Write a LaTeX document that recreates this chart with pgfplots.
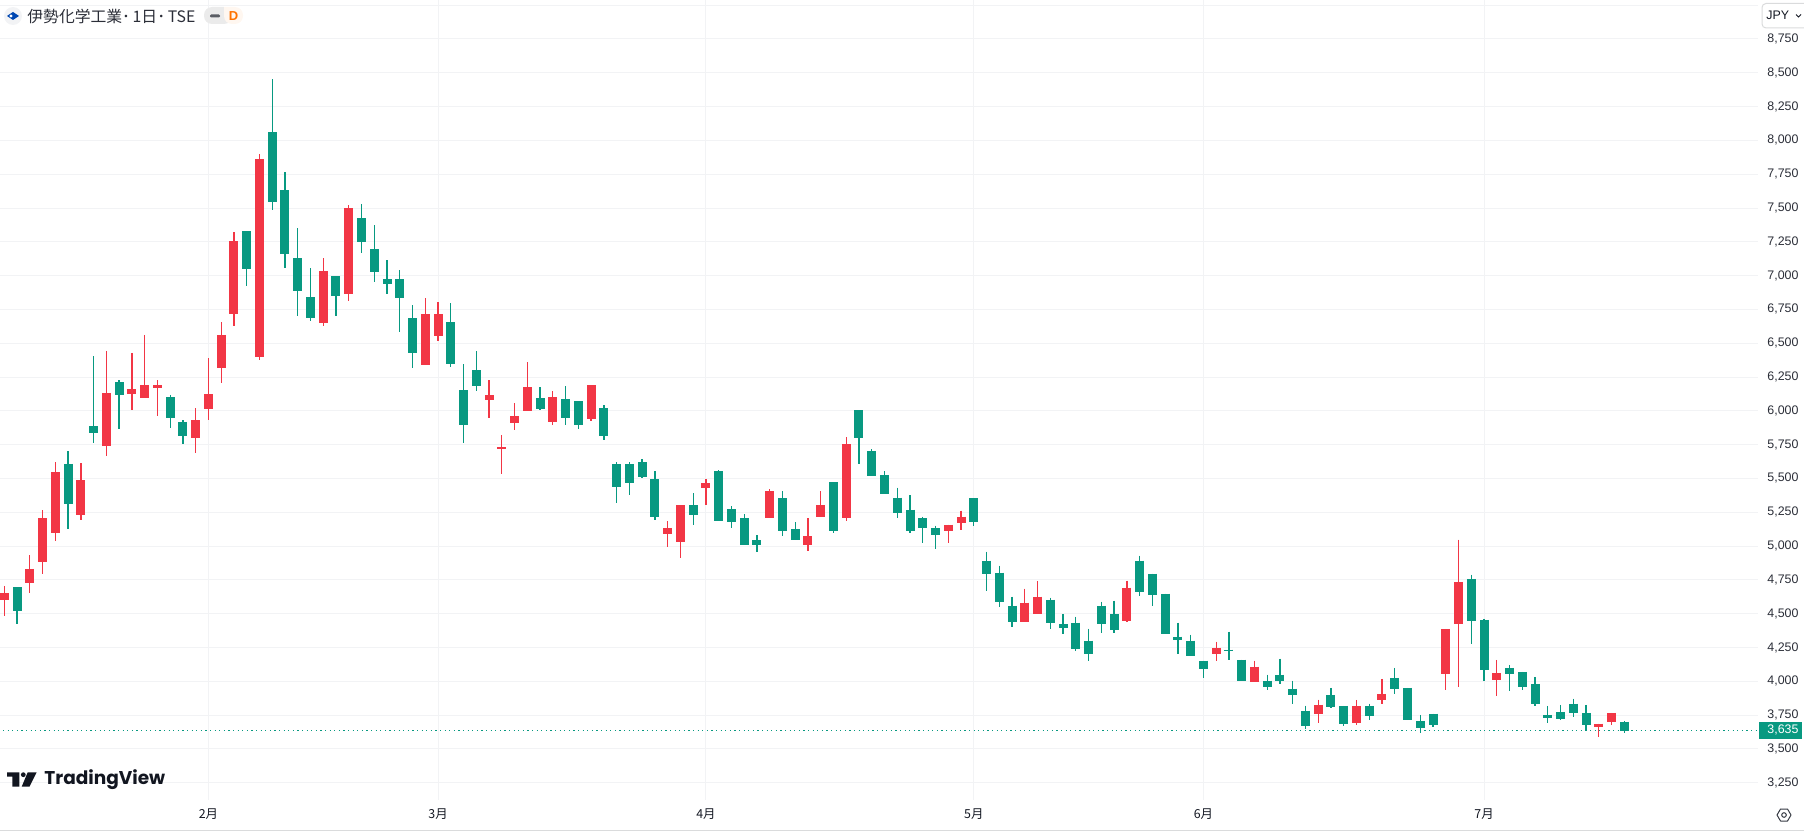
\documentclass[border=0pt]{standalone}
\usepackage{pgfplots}
\usepackage{pgfplotstable}
\pgfplotsset{compat=1.18}
\usepackage{fontspec}
\setmainfont{Liberation Sans}
\newfontfamily\cjk{Noto Sans CJK JP}
\newfontfamily\tvfont{Poppins}
\definecolor{upc}{HTML}{F23645}
\definecolor{dnc}{HTML}{089981}
\definecolor{gridc}{HTML}{F2F3F5}
\definecolor{txt}{HTML}{131722}
\pgfplotstableread{
i hi top bot lo
0 4705 4650 4599 4482
2 4933 4831 4725 4650
3 5266 5207 4882 4791
4 5619 5545 5098 5035
6 5612 5486 5227 5192
8 6443 6129 5737 5666
10 6428 6161 6122 6004
11 6561 6188 6094 6094
12 6227 6188 6168 5961
15 6020 5929 5800 5686
16 6388 6122 6012 5929
17 6655 6561 6314 6204
18 7322 7255 6714 6628
20 7899 7860 6396 6376
25 7130 7031 6647 6628
27 7522 7498 6863 6812
33 6831 6714 6337 6337
34 6804 6714 6553 6514
38 6226 6115 6078 5945
39 5819 5730 5715 5531
40 6056 5960 5908 5856
41 6359 6174 5997 5997
43 6144 6100 5915 5893
46 6189 6189 5937 5922
52 5183 5131 5087 4991
53 5301 5301 5028 4909
55 5494 5464 5427 5301
60 5420 5405 5205 5205
63 5205 5072 5005 4961
64 5405 5301 5212 5212
66 5804 5752 5205 5183
74 5159 5159 5115 5019
75 5263 5218 5167 5122
80 4686 4582 4442 4442
81 4738 4627 4501 4501
88 4745 4693 4449 4442
95 4294 4249 4205 4153
98 4153 4109 3998 3998
103 3865 3828 3761 3695
106 3863 3819 3693 3678
108 4018 3907 3863 3834
113 4388 4388 4055 3937
114 5047 4736 4425 3959
117 4159 4063 4011 3893
125 3686 3686 3663 3589
126 3767 3767 3700 3678
}\redT
\pgfplotstableread{
i hi top bot lo
1 4697 4697 4521 4423
5 5702 5608 5310 5125
7 6404 5886 5835 5761
9 6227 6212 6118 5867
13 6118 6102 5945 5870
14 5929 5918 5812 5753
19 7330 7330 7047 6922
21 8452 8059 7542 7483
22 7765 7632 7157 7055
23 7349 7130 6890 6698
24 7055 6839 6686 6663
26 6996 6996 6847 6698
28 7530 7424 7247 7165
29 7373 7196 7024 6953
30 7114 6973 6937 6863
31 7039 6973 6831 6580
32 6780 6686 6427 6314
35 6795 6655 6344 6322
36 6344 6152 5893 5760
37 6440 6300 6181 6144
42 6174 6093 6011 6004
44 6181 6085 5945 5893
45 6070 6070 5893 5863
47 6041 6019 5812 5782
48 5619 5605 5434 5316
49 5619 5605 5464 5375
50 5642 5619 5508 5501
51 5553 5494 5212 5190
54 5390 5301 5227 5153
56 5560 5553 5183 5183
57 5294 5272 5175 5131
58 5235 5205 5005 5005
59 5079 5042 5005 4954
61 5405 5353 5109 5072
62 5175 5124 5042 5042
65 5471 5471 5109 5094
67 6004 6004 5797 5605
68 5715 5701 5516 5516
69 5553 5523 5383 5383
70 5433 5359 5241 5211
71 5374 5270 5115 5093
72 5218 5204 5137 5019
73 5152 5130 5085 4982
76 5352 5352 5181 5152
77 4959 4893 4797 4671
78 4856 4804 4590 4553
79 4627 4560 4442 4405
82 4619 4604 4434 4390
83 4494 4420 4397 4353
84 4479 4434 4242 4227
85 4390 4301 4205 4153
86 4590 4560 4420 4360
87 4597 4494 4382 4360
89 4930 4893 4663 4634
90 4797 4797 4641 4560
91 4649 4649 4353 4353
92 4434 4331 4309 4205
93 4345 4301 4190 4190
94 4153 4153 4094 4027
96 4368 4235 4227 4161
97 4161 4161 4005 4005
99 4050 4005 3961 3939
100 4168 4050 4005 3983
101 4005 3946 3902 3835
102 3820 3783 3672 3650
104 3952 3900 3811 3804
105 3819 3819 3686 3671
107 3834 3819 3745 3715
109 4100 4026 3944 3907
110 3952 3952 3715 3715
111 3752 3708 3656 3619
112 3760 3760 3678 3663
115 4788 4758 4447 4277
116 4462 4455 4085 4004
118 4122 4100 4055 3930
119 4070 4070 3959 3937
120 4033 3981 3834 3819
121 3819 3752 3730 3693
122 3826 3774 3723 3715
123 3871 3834 3767 3737
124 3826 3767 3678 3641
127 3708 3700 3635 3619
}\greenT
\newcommand{\candles}[2]{%
  \addplot[draw=none, mark=none, forget plot,
    error bars/.cd, y dir=minus, y explicit, error mark=none,
    error bar style={draw=#2, solid, line width=0.65pt}]
    table[x=i, y=hi, y error minus expr=\thisrow{hi}-\thisrow{lo}] {#1};
  \addplot[draw=none, mark=none, forget plot,
    error bars/.cd, y dir=minus, y explicit, error mark=none,
    error bar style={draw=#2, solid, line width=4.5pt}]
    table[x=i, y=top, y error minus expr=\thisrow{top}-\thisrow{bot}] {#1};
}
\begin{document}
\begin{tikzpicture}
\path[use as bounding box] (0,-16pt) rectangle (902pt,400pt);
\begin{axis}[
  at={(0,0)}, anchor=south west,
  scale only axis, width=879pt, height=400pt,
  xmin=-0.3395, xmax=137.48, ymin=3122, ymax=9038.4,
  axis line style={draw=none},
  major tick length=0pt,
  ytick pos=right, yticklabel pos=right,
  ytick={3250,3500,3750,4000,4250,4500,4750,5000,5250,5500,5750,6000,6250,6500,6750,7000,7250,7500,7750,8000,8250,8500,8750},
  extra y ticks={9000}, extra y tick labels={},
  extra y tick style={grid=major},
  xtick={16,34,55,76,94,116},
  xticklabels={2月,3月,4月,5月,6月,7月},
  grid=major,
  major grid style={draw=gridc, line width=0.5pt},
  y tick label style={anchor=west, inner sep=0pt, xshift=4.5pt, text=txt!90, font=\fontsize{6.2}{7}\selectfont,
    /pgf/number format/.cd, 1000 sep={,}, assume math mode=true},
  x tick label style={anchor=center, inner sep=0pt, yshift=-7pt, text=txt, font=\cjk\fontsize{6.2}{7}\selectfont},
]
\addplot[dnc, line width=0.6pt, dash pattern=on 0.6pt off 1.7pt, forget plot] coordinates {(-0.1,3635) (137.48,3635)};
\candles{\redT}{upc}
\candles{\greenT}{dnc}
\end{axis}
\begin{scope}[x=0.5pt,y=-0.5pt,yshift=400pt]
  % bottom line
  \draw[draw=gridc!90!black, line width=0.5pt] (0,830) -- (1804,830);
  % header
  \fill[fill=gridc] (13,16) circle (9);
  \fill[fill=blue!60!cyan!70!black] (7,16) -- (13,12) -- (19,16) -- (13,20) -- cycle;
  \fill[white] (11,16) circle (1.6);
  \node[anchor=west, inner sep=0pt, text=txt!90] at (27,16.5) {\cjk\fontsize{7.9}{9}\selectfont 伊勢化学工業･\,1日･\,TSE};
  \fill[fill=black!8, rounded corners=4pt] (204,7) rectangle (232,24);
  \fill[fill=orange!6] (224,7) [rounded corners=4pt] -- (243,7) -- (243,24) -- (224,24) [sharp corners] -- cycle;
  \fill[fill=black!8] (216,7) rectangle (224,24);
  \fill[fill=txt!70, rounded corners=0.6pt] (210,14.5) rectangle (220,17.5);
  \node[inner sep=0pt, text=orange!90!red] at (233.5,16) {\fontsize{6.5}{7}\selectfont\bfseries D};
  % JPY
  \draw[draw=gridc!90!black, line width=0.5pt, rounded corners=2pt] (1762,3.5) rectangle (1812,28);
  \node[anchor=west, inner sep=0pt, text=txt] at (1766,15.5) {\fontsize{6.2}{7}\selectfont JPY};
  \draw[txt, line width=0.5pt] (1796,14.5) -- (1798.5,17) -- (1801,14.5);
  % price badge
  \fill[fill=dnc] (1759,721.5) rectangle (1802,739);
  \node[anchor=west, inner sep=0pt, text=white] at (1767,730) {\fontsize{6.2}{7}\selectfont 3,635};
  % settings icon
  \draw[txt!85, line width=0.5pt, line join=round] (1777,815) -- (1780.5,809) -- (1787.5,809) -- (1791,815) -- (1787.5,821) -- (1780.5,821) -- cycle;
  \draw[txt!85, line width=0.5pt] (1784,815) circle (2.3);
  % logo
  \fill[fill=txt!95!black] (7,772.3) -- (19.3,772.3) -- (19.3,786.7) -- (12.3,786.7) -- (12.3,776.7) -- (7,776.7) -- cycle;
  \fill[fill=txt!95!black] (23.3,774.7) circle (2.4);
  \fill[fill=txt!95!black] (27.7,772.3) -- (36.7,772.3) -- (29.5,786.7) -- (21.7,786.7) -- cycle;
  \node[anchor=west, inner sep=0pt, text=txt!95!black] at (44,780) {\tvfont\bfseries\fontsize{9.25}{11}\selectfont TradingView};
\end{scope}
\end{tikzpicture}
\end{document}
